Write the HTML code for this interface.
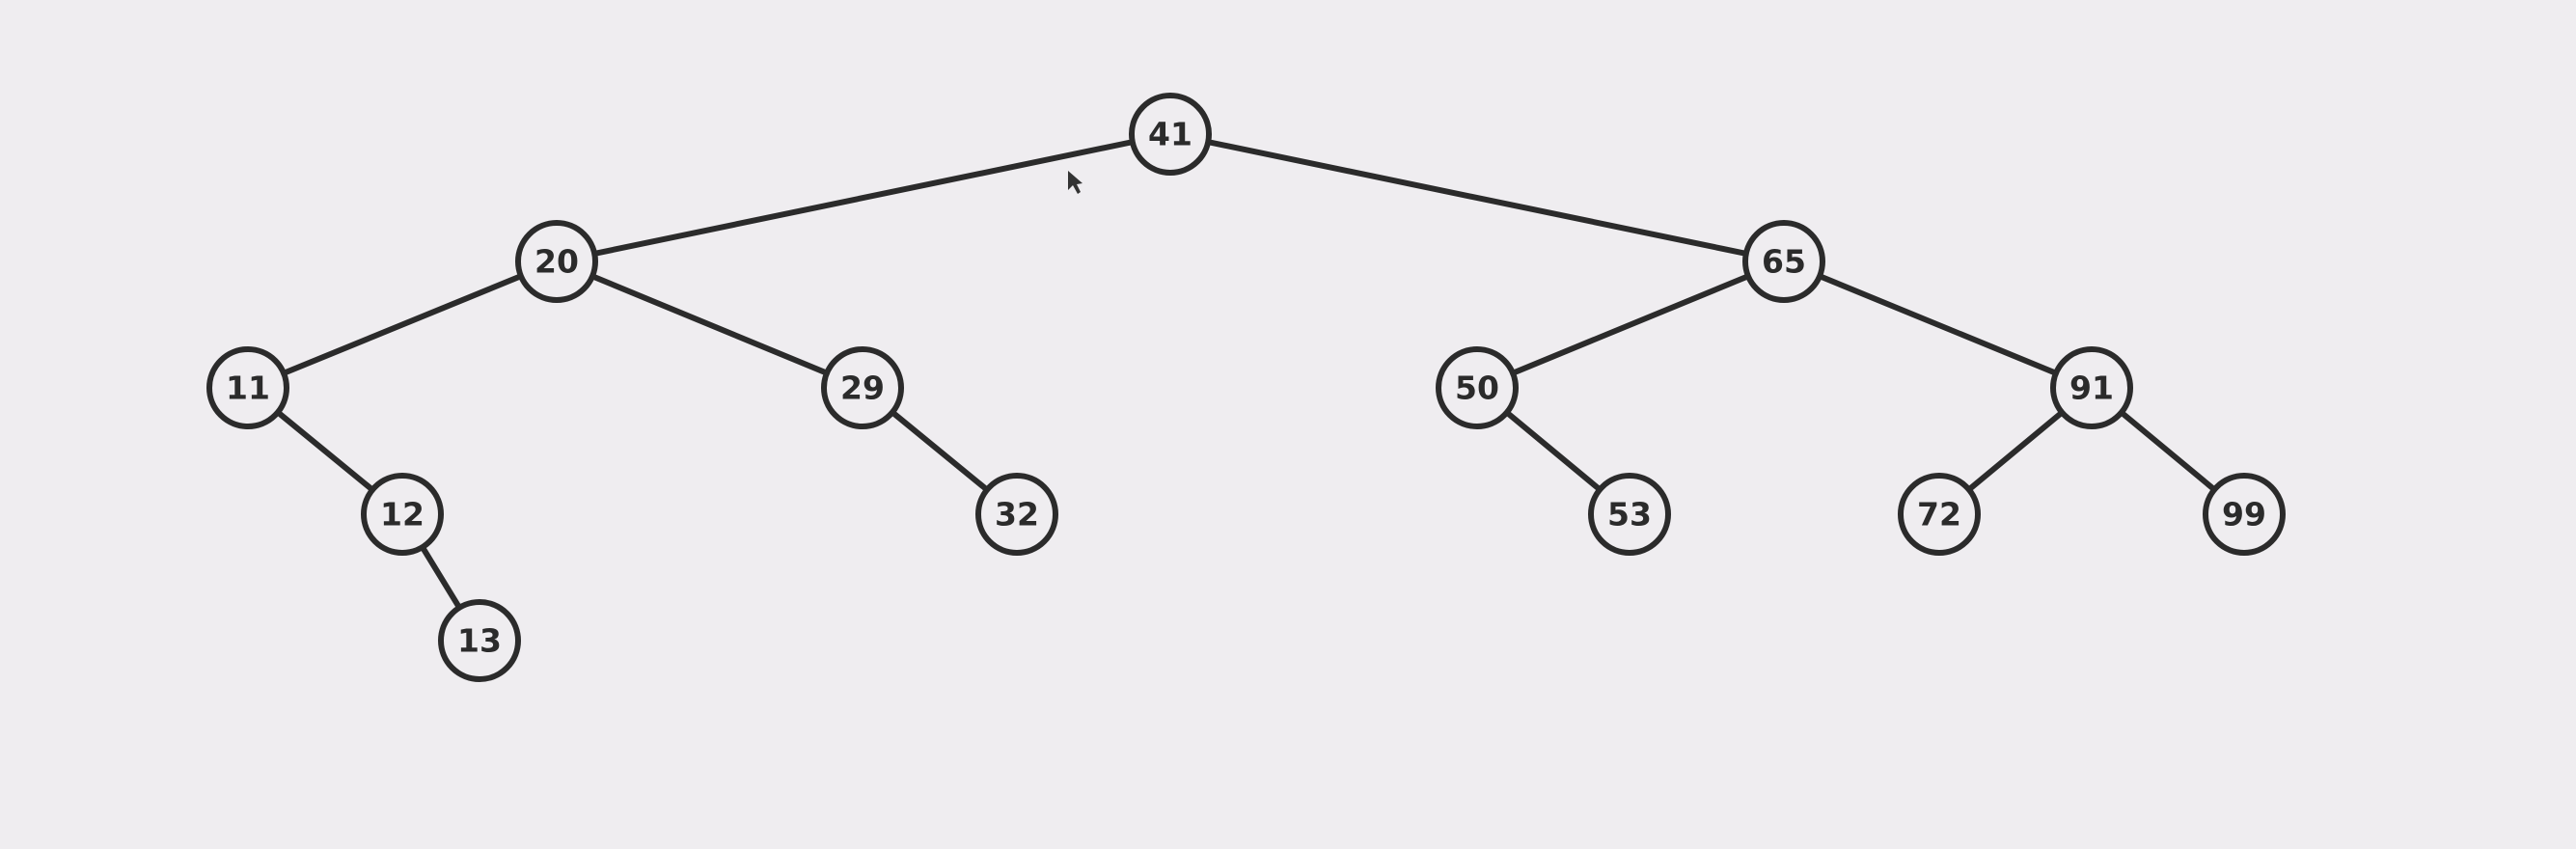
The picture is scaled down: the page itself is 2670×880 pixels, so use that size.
<!DOCTYPE html>
<html><head><meta charset="utf-8"><style>
html,body{margin:0;padding:0;background:#efedf0;}
svg{display:block}
text{font-family:"DejaVu Sans","Liberation Sans",sans-serif;font-size:33px;fill:#2b2b2b;text-anchor:middle;dominant-baseline:central;font-weight:bold}
</style></head><body>
<svg width="2670" height="880" viewBox="0 0 2670 880">
<rect width="2670" height="880" fill="#efedf0"/>
<g stroke="#2b2b2b" stroke-width="6" fill="none">
<line x1="1213" y1="139" x2="577" y2="271"/>
<line x1="1213" y1="139" x2="1849" y2="271"/>
<line x1="577" y1="271" x2="257" y2="402"/>
<line x1="577" y1="271" x2="894" y2="402"/>
<line x1="1849" y1="271" x2="1531" y2="402"/>
<line x1="1849" y1="271" x2="2168" y2="402"/>
<line x1="257" y1="402" x2="417" y2="533"/>
<line x1="417" y1="533" x2="497" y2="664"/>
<line x1="894" y1="402" x2="1054" y2="533"/>
<line x1="1531" y1="402" x2="1689" y2="533"/>
<line x1="2168" y1="402" x2="2010" y2="533"/>
<line x1="2168" y1="402" x2="2326" y2="533"/>
</g>
<g stroke="#2b2b2b" stroke-width="6" fill="#efedf0">
<circle cx="1213" cy="139" r="40"/>
<circle cx="577" cy="271" r="40"/>
<circle cx="1849" cy="271" r="40"/>
<circle cx="257" cy="402" r="40"/>
<circle cx="894" cy="402" r="40"/>
<circle cx="1531" cy="402" r="40"/>
<circle cx="2168" cy="402" r="40"/>
<circle cx="417" cy="533" r="40"/>
<circle cx="1054" cy="533" r="40"/>
<circle cx="1689" cy="533" r="40"/>
<circle cx="2010" cy="533" r="40"/>
<circle cx="2326" cy="533" r="40"/>
<circle cx="497" cy="664" r="40"/>
</g>
<text x="1213" y="139">41</text>
<text x="577" y="271">20</text>
<text x="1849" y="271">65</text>
<text x="257" y="402">11</text>
<text x="894" y="402">29</text>
<text x="1531" y="402">50</text>
<text x="2168" y="402">91</text>
<text x="417" y="533">12</text>
<text x="1054" y="533">32</text>
<text x="1689" y="533">53</text>
<text x="2010" y="533">72</text>
<text x="2326" y="533">99</text>
<text x="497" y="664">13</text>
<polygon points="1107,177 1107,197 1112,192 1117,201 1120,199 1116,191 1122,190" fill="#333"/>
</svg>
</body></html>
